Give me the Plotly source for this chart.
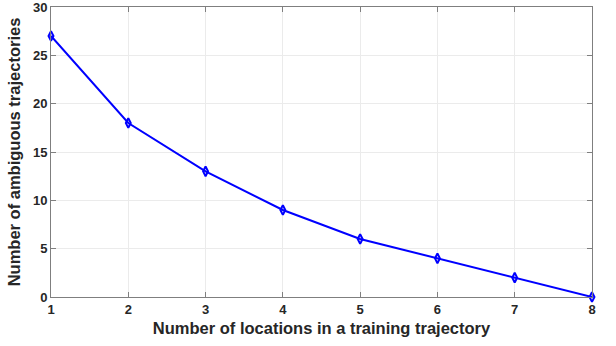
import plotly.graph_objects as go

x_locations = [1, 2, 3, 4, 5, 6, 7, 8]
ambiguous = [27, 18, 13, 9, 6, 4, 2, 0]
x_ticks = [1, 2, 3, 4, 5, 6, 7, 8]
y_ticks = [0, 5, 10, 15, 20, 25, 30]

fig = go.Figure()
fig.add_trace(go.Scatter(
    x=x_locations, y=ambiguous, mode="lines+markers",
    line=dict(color="#0000ff", width=2),
    marker=dict(symbol="diamond-tall-open", size=7, color="#0000ff", line=dict(width=2, color="#0000ff")),
    cliponaxis=False,
))

axis_common = dict(
    showline=True, linecolor="#7f7f7f", linewidth=1, mirror="ticks",
    ticks="inside", ticklen=5, tickcolor="#7f7f7f",
    showgrid=True, gridcolor="#ebebeb", gridwidth=1,
    zeroline=False, ticklabeloverflow="allow", automargin=False,
    tickfont=dict(family="Liberation Sans, Arial", size=13, color="#262626", weight="bold"),
)

title_font = dict(family="Liberation Sans, Arial", size=16.5, color="#262626", weight="bold")

fig.update_xaxes(range=[1, 8], tickvals=x_ticks,
                 title=dict(text="Number of locations in a training trajectory",
                            font=title_font, standoff=6),
                 **axis_common)
fig.update_yaxes(range=[0, 30], tickvals=y_ticks,
                 title=dict(text="Number of ambiguous trajectories",
                            font=title_font, standoff=8),
                 **axis_common)

fig.update_layout(
    width=616, height=346,
    margin=dict(l=51, r=24, t=7, b=49),
    paper_bgcolor="white", plot_bgcolor="white",
    showlegend=False,
)

fig.write_html("out.html")
